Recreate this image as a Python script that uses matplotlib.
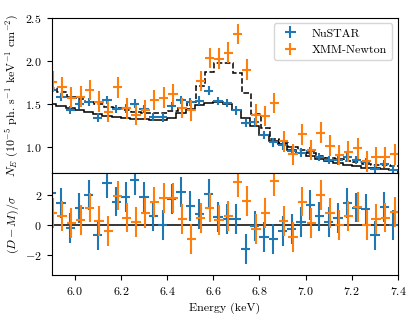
import numpy as np
import matplotlib
matplotlib.use('Agg')
import matplotlib.pyplot as plt

plt.rcParams['font.family'] = 'cmr10'
plt.rcParams['mathtext.fontset'] = 'cm'
plt.rcParams['axes.formatter.use_mathtext'] = True
plt.rcParams['font.size'] = 8.6

# NuSTAR spectrum (bin centres in keV)
e_nu = [5.90, 5.94, 5.98, 6.02, 6.06, 6.10, 6.14, 6.18, 6.22, 6.26,
        6.30, 6.34, 6.38, 6.42, 6.46, 6.50, 6.54, 6.58, 6.62, 6.66,
        6.70, 6.74, 6.78, 6.82, 6.86, 6.90, 6.94, 6.98, 7.02, 7.06,
        7.10, 7.14, 7.18, 7.22, 7.26, 7.30, 7.34, 7.38]
n_nu = [1.655, 1.575, 1.425, 1.49, 1.52, 1.335, 1.54, 1.435, 1.445, 1.50,
        1.435, 1.345, 1.34, 1.47, 1.54, 1.52, 1.535, 1.65, 1.53, 1.505,
        1.42, 1.275, 1.28, 1.135, 1.05, 1.015, 0.95, 0.93, 0.945, 0.88,
        0.843, 0.84, 0.875, 0.843, 0.818, 0.735, 0.797, 0.73]
mod_nu = [1.50, 1.475, 1.45, 1.425, 1.40, 1.38, 1.36, 1.345, 1.33, 1.32,
          1.315, 1.31, 1.31, 1.33, 1.39, 1.44, 1.48, 1.51, 1.52, 1.50,
          1.43, 1.33, 1.24, 1.13, 1.07, 1.03, 0.96, 0.92, 0.885, 0.855,
          0.83, 0.805, 0.79, 0.77, 0.755, 0.745, 0.735, 0.725]
res_nu = [2.11, 1.49, -0.18, 1.11, 2.0, -0.67, 2.78, 1.56, 1.84, 3.0,
          1.89, 0.62, 0.0, 1.71, 2.22, 1.29, 0.73, 2.07, 0.51, 0.38,
          0.38, -1.6, -0.07, -0.78, -0.96, -0.44, -0.29, 0.22, 1.33, 0.56,
          0.18, 0.44, 1.49, 1.16, 1.04, -0.71, 1.18, -0.04]

# XMM-Newton spectrum
e_xmm = [5.905, 5.945, 5.985, 6.025, 6.065, 6.105, 6.145, 6.185, 6.225, 6.265,
         6.305, 6.345, 6.385, 6.425, 6.465, 6.505, 6.545, 6.585, 6.625, 6.665,
         6.705, 6.745, 6.785, 6.825, 6.865, 6.905, 6.945, 6.985, 7.025, 7.065,
         7.105, 7.145, 7.185, 7.225, 7.265, 7.305, 7.345, 7.385]
n_xmm = [1.754, 1.688, 1.567, 1.579, 1.657, 1.521, 1.405, 1.688, 1.444, 1.366,
         1.424, 1.541, 1.57, 1.607, 1.45, 1.42, 1.76, 2.03, 2.02, 2.09,
         2.31, 1.895, 1.37, 1.355, 1.505, 1.06, 0.91, 1.142, 0.96, 1.16,
         1.01, 0.90, 0.94, 0.98, 0.83, 0.88, 0.88, 0.91]
mod_xmm = [1.68, 1.63, 1.58, 1.55, 1.52, 1.49, 1.465, 1.445, 1.425, 1.405,
           1.39, 1.385, 1.39, 1.41, 1.45, 1.52, 1.70, 1.87, 1.97, 1.975,
           1.86, 1.62, 1.38, 1.21, 1.09, 1.04, 0.99, 0.955, 0.925, 0.895,
           0.87, 0.85, 0.83, 0.815, 0.80, 0.79, 0.78, 0.77]
res_xmm = [0.82, 0.62, 0.11, 0.33, 1.16, 0.27, -0.44, 1.96, 0.49, 0.18,
           0.78, 1.51, 1.78, 1.78, 0.4, -0.93, 0.44, 1.16, 0.33, 0.6,
           2.84, 1.6, -0.27, 0.82, 2.93, 0.27, -0.78, 1.56, 0.11, 2.0,
           0.82, 0.0, 0.62, 1.22, -0.04, 0.38, 0.49, 0.84]

half_bin = 0.02
err_nu = 0.05
err_xmm = 0.12

e_nu = np.array(e_nu)
e_xmm = np.array(e_xmm)
edges_nu = np.append(e_nu - half_bin, e_nu[-1] + half_bin)
edges_xmm = np.append(e_xmm - half_bin, e_xmm[-1] + half_bin)

fig = plt.figure(figsize=(4.15, 3.23), dpi=100)
gs = fig.add_gridspec(2, 1, height_ratios=[1.53, 1], hspace=0,
                      left=0.1246, right=0.959, top=0.9458, bottom=0.1486)
ax = fig.add_subplot(gs[0])
axr = fig.add_subplot(gs[1], sharex=ax)

ax.stairs(mod_nu, edges_nu, color='k', lw=1.1, zorder=1)
ax.stairs(mod_xmm, edges_xmm, color='k', lw=1.1, ls='--', zorder=1)
ax.errorbar(e_nu, n_nu, xerr=half_bin, yerr=err_nu, fmt='none',
            ecolor='C0', label='NuSTAR')
ax.errorbar(e_xmm, n_xmm, xerr=half_bin, yerr=err_xmm, fmt='none',
            ecolor='C1', label='XMM-Newton')
ax.set_ylim(0.69, 2.5)
ax.set_yticks([1.0, 1.5, 2.0, 2.5])
ax.tick_params(labelbottom=False)
ax.set_ylabel(r'$N_E$ ($10^{-5}$ ph. s$^{-1}$ keV$^{-1}$ cm$^{-2}$)')
ax.yaxis.set_label_coords(-0.088, 0.5)
ax.legend(loc='upper right')

axr.axhline(0, color='k', lw=1.1, zorder=1)
axr.errorbar(e_nu, res_nu, xerr=half_bin, yerr=1, fmt='none', ecolor='C0')
axr.errorbar(e_xmm, res_xmm, xerr=half_bin, yerr=1, fmt='none', ecolor='C1')
axr.set_ylim(-3.35, 3.45)
axr.set_yticks([-2, 0, 2])
axr.set_xlim(5.9, 7.4)
axr.set_xlabel('Energy (keV)')
axr.set_ylabel(r'$(D-M)/\sigma$')
axr.yaxis.set_label_coords(-0.088, 0.5)

fig.savefig('out.png', dpi=100)
